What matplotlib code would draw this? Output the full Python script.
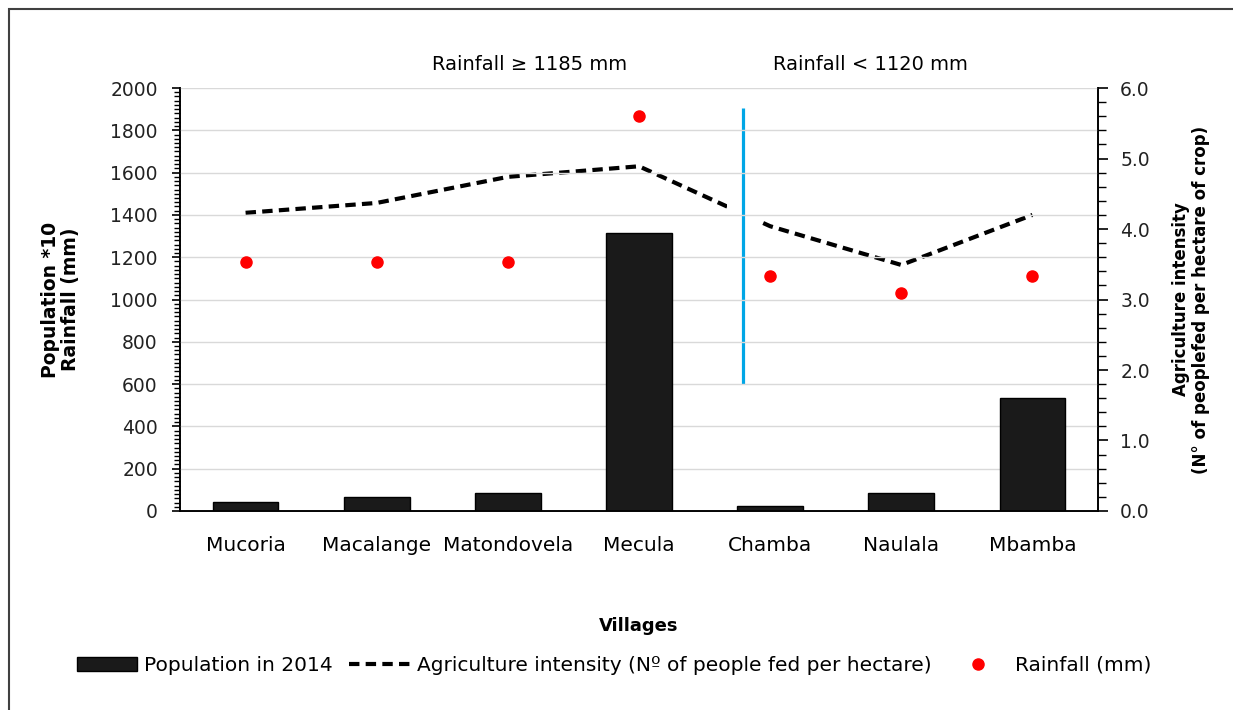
import matplotlib
matplotlib.use("Agg")
import matplotlib.pyplot as plt
from matplotlib.patches import Rectangle
from matplotlib.lines import Line2D
from matplotlib.ticker import MultipleLocator, FormatStrFormatter

villages = ["Mucoria", "Macalange", "Matondovela", "Mecula", "Chamba", "Naulala", "Mbamba"]
population = [43, 66, 85, 1314, 24, 85, 534]          # population *10
intensity = [4.23, 4.37, 4.74, 4.89, 4.04, 3.49, 4.20]  # people fed per hectare
rainfall = [1177, 1177, 1177, 1868, 1111, 1031, 1111]   # mm

plt.rcParams['font.family'] = ['DejaVu Sans']

fig = plt.figure(figsize=(12.33, 7.10), dpi=100)
fig.patch.set_facecolor('white')
ax = fig.add_axes([0.146, 0.2803, 0.7445, 0.5957])
ax2 = ax.twinx()

dash = (0, (2.5, 1.5))
x = list(range(len(villages)))
ax.bar(x, population, width=0.5, color='#1a1a1a', edgecolor='black', zorder=2)
ax.plot(x, rainfall, 'o', color='red', markersize=8, zorder=4)
ax2.plot(x, intensity, color='black', lw=3, linestyle=dash, dash_capstyle='butt', zorder=3)

# white box hiding the line near the divider, then the divider itself
ax2.add_patch(Rectangle((3.67, 3.72), 0.26, 1.0, facecolor='white', edgecolor='none', zorder=5))
ax2.plot([3.79, 3.79], [600 * 6 / 2000, 1905 * 6 / 2000], color='#00a6e6', lw=2.3,
         solid_capstyle='butt', zorder=6)

ax.set_xlim(-0.5, 6.5)
ax.set_ylim(0, 2000)
ax2.set_ylim(0, 6)
ax.yaxis.set_major_locator(MultipleLocator(200))
ax.yaxis.set_minor_locator(MultipleLocator(20))
ax2.yaxis.set_major_locator(MultipleLocator(1))
ax2.yaxis.set_minor_locator(MultipleLocator(0.2))
ax2.yaxis.set_major_formatter(FormatStrFormatter('%.1f'))

ax.grid(axis='y', color='#d9d9d9', lw=1, zorder=0)
ax.set_axisbelow(True)
ax.set_zorder(ax2.get_zorder() + 1)
ax.patch.set_visible(False)

for a in (ax, ax2):
    a.spines['top'].set_visible(False)
    for s in ('left', 'right', 'bottom'):
        a.spines[s].set_linewidth(1.2)
ax.tick_params(axis='y', which='major', length=6, width=1.2, labelsize=13.5, labelcolor='#222222', pad=10)
ax.tick_params(axis='y', which='minor', length=4, width=1)
ax2.tick_params(axis='y', which='major', length=7, width=1.2, labelsize=13.5, labelcolor='#222222', pad=9)
ax2.tick_params(axis='y', which='minor', length=6, width=1)
ax.tick_params(axis='x', length=0, labelsize=14.5, pad=18)
ax.set_xticks(x)
ax.set_xticklabels(villages)

ax.set_ylabel("Population *10\nRainfall (mm)", fontsize=13.5, fontweight='bold', labelpad=22, linespacing=1.05)
ax2.set_ylabel("Agriculture intensity\n(N\u00b0 of peoplefed per hectare of crop)", fontsize=12,
               fontweight='bold', rotation=90, labelpad=16, linespacing=1.1)
ax.set_xlabel("Villages", fontsize=13, fontweight='bold', labelpad=45)

ax.text(0.381, 1.055, "Rainfall \u2265 1185 mm", transform=ax.transAxes, ha='center', va='center', fontsize=14)
ax.text(0.752, 1.055, "Rainfall < 1120 mm", transform=ax.transAxes, ha='center', va='center', fontsize=14)

handles = [
    Rectangle((0, 0), 1, 1, facecolor='#1a1a1a', edgecolor='black'),
    Line2D([], [], color='black', lw=3, linestyle=dash, dash_capstyle='butt'),
    Line2D([], [], marker='o', color='red', lw=0, markersize=8),
]
labels = ["Population in 2014", "Agriculture intensity (N\u00ba of people fed per hectare)", "Rainfall (mm)"]
fig.legend(handles, labels, loc='center', bbox_to_anchor=(0.498, 0.063), ncol=3, frameon=False,
           fontsize=14.5, handlelength=3.0, handletextpad=0.35, columnspacing=0.8)

# outer frame
fig.patches.append(Rectangle((9 / 1233, -0.01), 1.02, 1 - 9 / 710 + 0.01, transform=fig.transFigure,
                             facecolor='none', edgecolor='#404040', lw=1.5))

fig.savefig("out.png", dpi=100)
